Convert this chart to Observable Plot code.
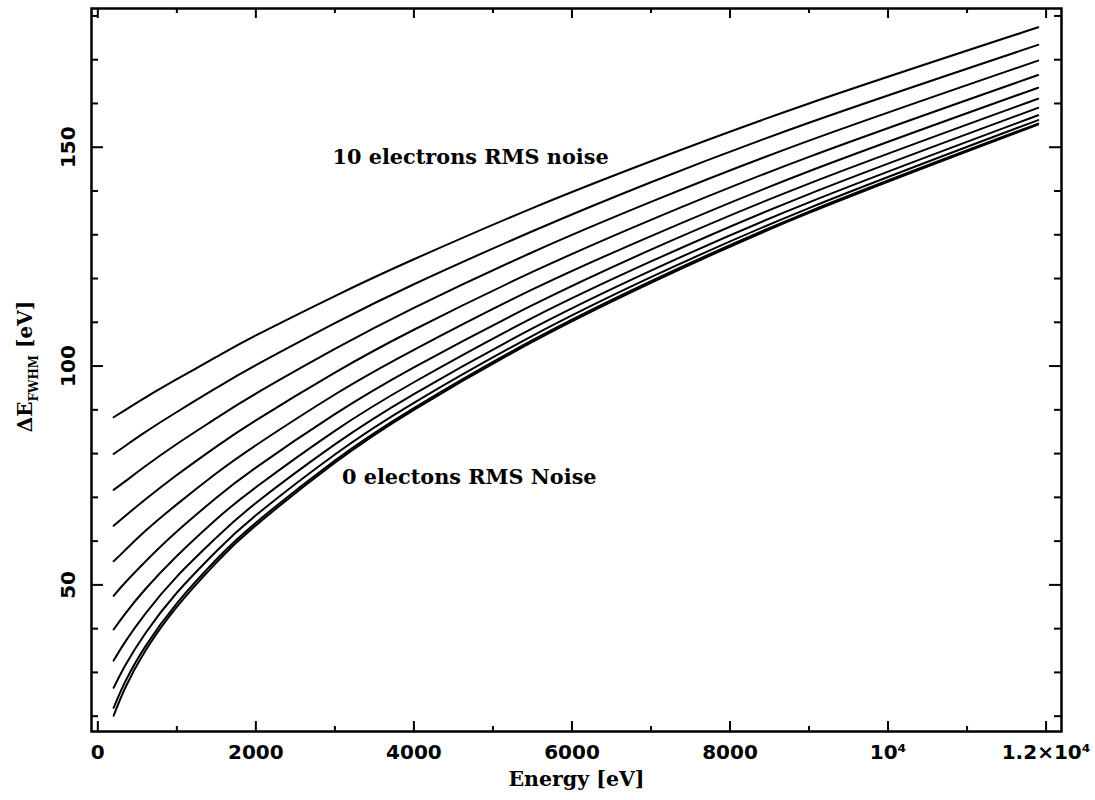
<!DOCTYPE html>
<html><head><meta charset="utf-8">
<script src="https://cdn.jsdelivr.net/npm/d3@7"></script>
<script src="https://cdn.jsdelivr.net/npm/@observablehq/plot@0.6"></script>
<style>body{margin:0;background:#fff}</style>
</head><body><div id="chart"></div>
<script>
// Energy sample points [eV]
const energies = [200, 350, 600, 1000, 1500, 2000, 3000, 4000, 5500, 7000, 9000, 11900];
// ΔE_FWHM [eV] for RMS noise of 0..10 electrons
const noise0  = [20.1, 26.6, 34.9, 45.0, 55.1, 63.6, 77.9, 90.0, 105.5, 119.0, 135.0, 155.2];
const noise1  = [21.9, 28.0, 35.9, 45.8, 55.8, 64.2, 78.4, 90.4, 105.9, 119.4, 135.3, 155.4];
const noise2  = [26.5, 31.7, 38.9, 48.2, 57.7, 65.9, 79.8, 91.6, 106.9, 120.3, 136.1, 156.2];
const noise3  = [32.7, 37.1, 43.4, 51.9, 60.8, 68.7, 82.1, 93.6, 108.6, 121.8, 137.4, 157.3];
const noise4  = [39.8, 43.5, 49.0, 56.6, 65.0, 72.3, 85.2, 96.3, 111.0, 123.9, 139.3, 159.0];
const noise5  = [47.5, 50.6, 55.3, 62.2, 69.9, 76.8, 89.0, 99.7, 113.9, 126.6, 141.7, 161.1];
const noise6  = [55.4, 58.0, 62.3, 68.4, 75.5, 81.9, 93.5, 103.7, 117.5, 129.7, 144.5, 163.6];
const noise7  = [63.5, 65.8, 69.5, 75.1, 81.6, 87.6, 98.5, 108.3, 121.5, 133.4, 147.8, 166.5];
const noise8  = [71.7, 73.7, 77.1, 82.2, 88.1, 93.7, 103.9, 113.3, 126.0, 137.5, 151.5, 169.8];
const noise9  = [79.9, 81.8, 84.9, 89.5, 95.0, 100.2, 109.8, 118.7, 130.8, 142.0, 155.6, 173.4];
const noise10 = [88.3, 90.0, 92.8, 97.0, 102.1, 107.0, 116.0, 124.4, 136.1, 146.8, 160.0, 177.4];
const series = [noise0, noise1, noise2, noise3, noise4, noise5, noise6, noise7, noise8, noise9, noise10];

// Axis ticks and labels
const xMajor = [0, 2000, 4000, 6000, 8000, 10000, 12000];
const xLabels = ["0", "2000", "4000", "6000", "8000", "10⁴", "1.2×10⁴"];
const xMinor = [1000, 3000, 5000, 7000, 9000, 11000];
const yMajor = [50, 100, 150];
const yLabels = ["50", "100", "150"];
const yMinor = [20, 30, 40, 60, 70, 80, 90, 110, 120, 130, 140, 160, 170, 180];

// Annotations
const noteText = ["10 electrons RMS noise", "0 electons RMS Noise"];
const noteX = [2970, 3090];
const noteY = [147.7, 74.6];

const data = series.flatMap((vals, n) => vals.map((v, i) => ({noise: n, energy: energies[i], fwhm: v})));
const notes = noteText.map((t, i) => ({text: t, energy: noteX[i], fwhm: noteY[i]}));

const W = 1095, H = 800, mt = 8, mb = 69, ml = 91, mr = 34;
const plotH = H - mt - mb, plotW = W - ml - mr;
const serif = "DejaVu Serif";
const sans = "DejaVu Sans";

const chart = Plot.plot({
  width: W, height: H,
  marginTop: mt, marginBottom: mb, marginLeft: ml, marginRight: mr,
  x: {domain: [-80, 12195]},
  y: {domain: [16.5, 181.7]},
  axis: null,
  style: {background: "#fff", color: "#000"},
  marks: [
    Plot.line(data, {x: "energy", y: "fwhm", z: "noise", stroke: "#000", strokeWidth: 2, curve: "natural"}),
    // ticks (inward) bottom/top
    Plot.tickX(xMajor, {x: d => d, insetTop: plotH - 10, stroke: "#000", strokeWidth: 2}),
    Plot.tickX(xMajor, {x: d => d, insetBottom: plotH - 10, stroke: "#000", strokeWidth: 2}),
    Plot.tickX(xMinor, {x: d => d, insetTop: plotH - 5, stroke: "#000", strokeWidth: 2}),
    Plot.tickX(xMinor, {x: d => d, insetBottom: plotH - 5, stroke: "#000", strokeWidth: 2}),
    // ticks left/right
    Plot.tickY(yMajor, {y: d => d, insetRight: plotW - 12, stroke: "#000", strokeWidth: 2}),
    Plot.tickY(yMajor, {y: d => d, insetLeft: plotW - 12, stroke: "#000", strokeWidth: 2}),
    Plot.tickY(yMinor, {y: d => d, insetRight: plotW - 7, stroke: "#000", strokeWidth: 2}),
    Plot.tickY(yMinor, {y: d => d, insetLeft: plotW - 7, stroke: "#000", strokeWidth: 2}),
    Plot.frame({stroke: "#000", strokeWidth: 2.5}),
    // tick labels
    Plot.text(xMajor, {x: d => d, text: (d, i) => xLabels[i], frameAnchor: "bottom", dy: 21,
      lineAnchor: "middle", fontSize: 20, fontFamily: sans, fontWeight: "bold", fill: "#000"}),
    Plot.text(yMajor, {y: d => d, text: (d, i) => yLabels[i], frameAnchor: "left", dx: -23, rotate: -90,
      lineAnchor: "middle", textAnchor: "middle", fontSize: 20, fontFamily: sans, fontWeight: "bold", fill: "#000"}),
    // x axis title
    Plot.text(["Energy [eV]"], {text: d => d, frameAnchor: "bottom", dy: 48, lineAnchor: "middle",
      fontSize: 20.5, fontFamily: serif, fontWeight: "bold", fill: "#000"}),
    // annotations
    Plot.text(notes, {x: "energy", y: "fwhm", text: "text", textAnchor: "start", lineAnchor: "middle",
      fontSize: 20.8, fontFamily: serif, fontWeight: "bold", fill: "#000"})
  ]
});

const svg = d3.select(chart);
const ylab = svg.append("text")
  .attr("transform", "translate(32," + (mt + plotH / 2 - 3) + ") rotate(-90)")
  .attr("text-anchor", "middle")
  .attr("font-family", serif)
  .attr("font-weight", "bold")
  .attr("font-size", 20)
  .attr("fill", "#000");
ylab.append("tspan").text("ΔE");
ylab.append("tspan").attr("font-size", 12).attr("dy", 6).text("FWHM");
ylab.append("tspan").attr("dy", -6).text(" [eV]");

document.getElementById("chart").appendChild(chart);
</script>
</body></html>
